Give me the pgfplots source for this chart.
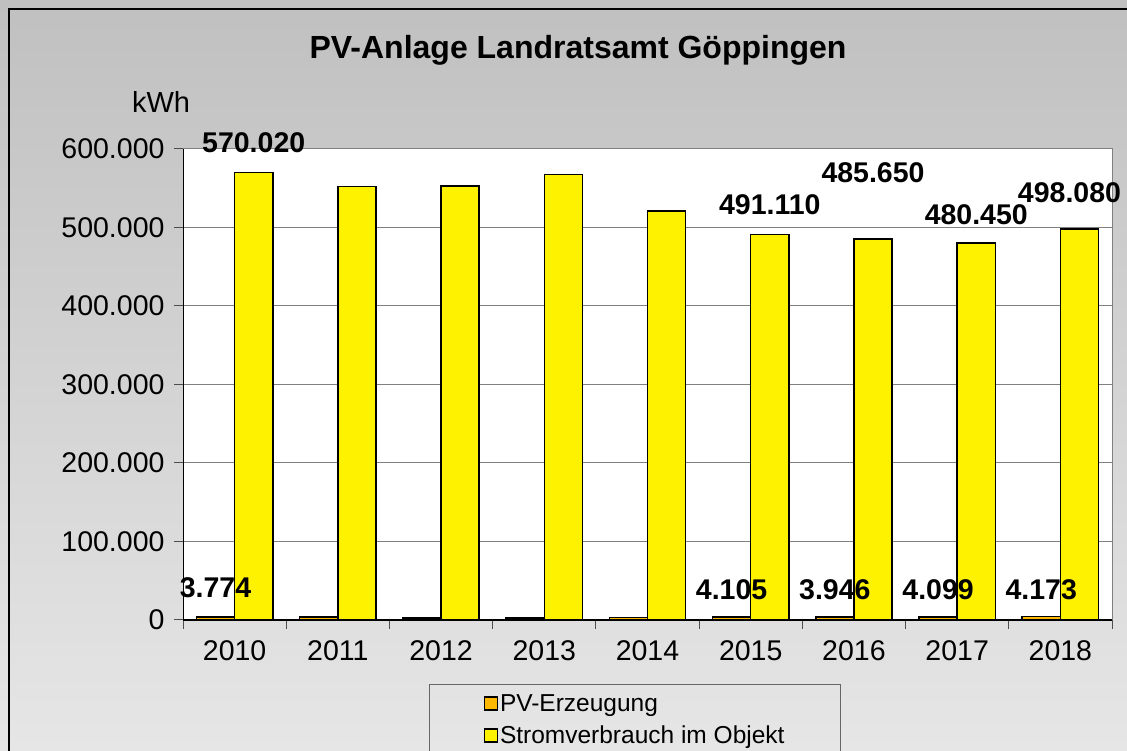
\documentclass[border=0pt]{standalone}
\usepackage{pgfplots}
\pgfplotsset{compat=1.18}
\usepackage{fontspec}
\setmainfont{Liberation Sans}
\definecolor{pvorange}{RGB}{255,184,0}
\definecolor{gridgray}{RGB}{128,128,128}
\begin{document}
\begin{tikzpicture}[x=1pt,y=1pt]
\clip (0,0) rectangle (1127,751);
\shade[top color={rgb,255:red,192;green,192;blue,192}, bottom color={rgb,255:red,230;green,230;blue,230}] (0,0) rectangle (1127,751);
\draw[black, line width=2pt] (9,-20) -- (9,742) -- (1140,742);
\node[font=\bfseries\fontsize{32}{36}\selectfont] at (578,701) {PV-Anlage Landratsamt Göppingen};
\node[font=\fontsize{29}{33}\selectfont] at (161,649) {kWh};
\begin{axis}[
  at={(183pt,131pt)}, anchor=south west,
  scale only axis, width=929pt, height=471pt,
  xmin=-0.5, xmax=8.5, ymin=0, ymax=600000,
  clip=false,
  axis background/.style={fill=white},
  axis line style={draw=gridgray, line width=1pt},
  ymajorgrids, grid style={gridgray, line width=1pt},
  xtick={0,...,8},
  xticklabels={2010,2011,2012,2013,2014,2015,2016,2017,2018},
  minor xtick={-0.5,0.5,...,8.5},
  ytick={0,100000,...,600000},
  scaled y ticks=false,
  /pgf/number format/.cd, fixed, 1000 sep={.}, assume math mode=true,
  /pgfplots/.cd,
  tick align=outside, tick pos=left,
  major tick length=9pt, minor tick length=9pt,
  every major x tick/.append style={draw=none},
  every minor x tick/.append style={draw=gridgray!60!black, line width=1pt},
  every major y tick/.append style={draw=gridgray!60!black, line width=1pt},
  ticklabel style={font=\fontsize{28.5}{32}\selectfont},
  yticklabel style={xshift=-6pt},
  xticklabel style={yshift=-8pt},
  legend style={at={(0.2648,-0.1359)}, anchor=north west, draw=gridgray!80!black, fill=none,
    line width=1pt, font=\fontsize{24.5}{28}\selectfont, inner xsep=54pt, inner ysep=3pt,
    row sep=0pt, nodes={inner sep=2pt, text height=22pt, text depth=6pt}},
  legend cell align=left,
]
\addplot[ybar, bar width=0.37, bar shift=-0.185, fill=pvorange, draw=black, line width=1.5pt,
  legend image code/.code={\draw[fill=pvorange,draw=black,line width=1.5pt] (0pt,-6.5pt) rectangle (13pt,6.5pt);}]
  coordinates {(0,3774) (1,3600) (2,2700) (3,2600) (4,3000) (5,4105) (6,3946) (7,4099) (8,4173)};
\addlegendentry{PV-Erzeugung}
\addplot[ybar, bar width=0.37, bar shift=0.185, fill=yellow, draw=black, line width=1.5pt,
  legend image code/.code={\draw[fill=yellow,draw=black,line width=1.5pt] (0pt,-6.5pt) rectangle (13pt,6.5pt);}]
  coordinates {(0,570020) (1,552000) (2,553000) (3,567500) (4,521000) (5,491110) (6,485650) (7,480450) (8,498080)};
\addlegendentry{Stromverbrauch im Objekt}
\draw[black, line width=1.5pt] (rel axis cs:0,0) -- (rel axis cs:1,0);
\draw[black, line width=1pt] (rel axis cs:0,0) -- (rel axis cs:0,1);
\addplot[forget plot, only marks, mark=none, nodes near coords, point meta=explicit symbolic,
  nodes near coords align={center},
  every node near coord/.append style={font=\bfseries\fontsize{28.5}{32}\selectfont, anchor=center}]
  table[meta=label] {
x y label
0.185 607600 570.020
-0.185 40800 3.774
5.185 528700 491.110
4.815 38500 4.105
6.185 569400 485.650
5.815 38500 3.946
7.185 516000 480.450
6.815 38500 4.099
8.088 544000 498.080
7.815 38500 4.173
};
\end{axis}
\end{tikzpicture}
\end{document}
